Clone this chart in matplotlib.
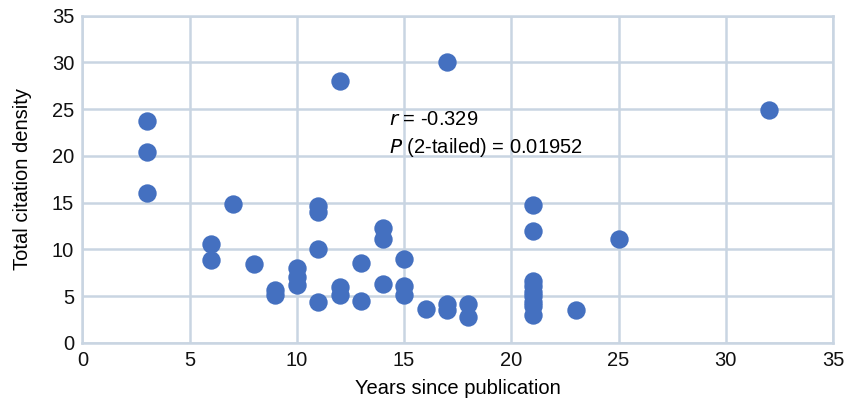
import matplotlib
matplotlib.use("Agg")
import matplotlib.pyplot as plt
from matplotlib import font_manager

years = [3, 3, 3,
         6, 6,
         7,
         8,
         9, 9,
         10, 10, 10,
         11, 11, 11, 11,
         12, 12, 12,
         13, 13,
         14, 14, 14,
         15, 15, 15,
         16,
         17, 17, 17,
         18, 18,
         21, 21, 21, 21, 21, 21, 21, 21, 21,
         23,
         25,
         32]
density = [23.7, 20.4, 16.0,
           10.6, 8.9,
           14.9,
           8.4,
           5.7, 5.1,
           8.0, 7.1, 6.2,
           14.6, 14.0, 10.1, 4.4,
           28.0, 6.0, 5.1,
           8.5, 4.5,
           12.3, 11.1, 6.3,
           9.0, 6.1, 5.1,
           3.6,
           30.0, 4.2, 3.5,
           4.2, 2.8,
           14.8, 12.0, 6.6, 6.1, 5.5, 5.0, 4.4, 4.0, 3.0,
           3.5,
           11.1,
           24.9]

x_ticks = [0, 5, 10, 15, 20, 25, 30, 35]
y_ticks = [0, 5, 10, 15, 20, 25, 30, 35]

names = {f.name for f in font_manager.fontManager.ttflist}
fam = "Liberation Sans Narrow" if "Liberation Sans Narrow" in names else "Liberation Sans"
plt.rcParams["font.family"] = [fam, "DejaVu Sans"]

fig = plt.figure(figsize=(8.47, 4.15), dpi=100)
ax = fig.add_axes([0.0974, 0.1735, 0.886, 0.789])
grid_c = "#c9d5e2"
ax.scatter(years, density, s=175, color="#4470c0", zorder=3, linewidths=0)
ax.set_xlim(0, 35)
ax.set_ylim(0, 35)
ax.set_xticks(x_ticks)
ax.set_yticks(y_ticks)
ax.grid(True, color=grid_c, linewidth=1.8, zorder=0)
for s in ax.spines.values():
    s.set_color(grid_c)
    s.set_linewidth(1.8)
ax.tick_params(length=0, labelsize=14.5, pad=6, colors="#111111")
ax.set_xlabel("Years since publication", fontsize=14.5, labelpad=6)
ax.set_ylabel("Total citation density", fontsize=14.5, labelpad=14)
ax.text(14.3, 23.3, r"$\it{r}$ = -0.329", fontsize=14.5)
ax.text(14.3, 20.3, r"$\it{P}$ (2-tailed) = 0.01952", fontsize=14.5)
fig.savefig("out.png", dpi=100)
